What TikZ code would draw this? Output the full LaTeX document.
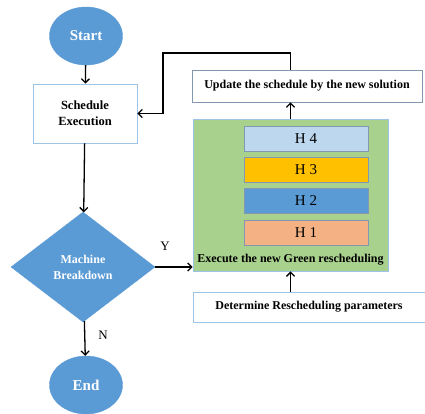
\documentclass[tikz,border=0pt]{standalone}
\usepackage{fontspec}
\setmainfont{Liberation Serif}
\usepackage{tikz}
\usetikzlibrary{arrows.meta, positioning, shapes.geometric, calc}
\definecolor{flowblue}{HTML}{5B9BD5}
\definecolor{flowedge}{HTML}{9DC3E6}
\definecolor{flowgreen}{HTML}{A9D18E}
\definecolor{flowsky}{HTML}{BDD7EE}
\definecolor{flowgold}{HTML}{FFC000}
\definecolor{flowpeach}{HTML}{F4B183}
\definecolor{flowslate}{HTML}{8497B0}
\tikzset{
  terminal/.style={ellipse, fill=flowblue, draw=flowblue, text=white, inner sep=0pt,
    minimum width=73pt, minimum height=58pt, font=\fontsize{15}{17}\selectfont\bfseries},
  plainbox/.style={rectangle, draw=flowedge, fill=white, line width=0.8pt, inner sep=0pt,
    align=center, font=\fontsize{12}{14}\selectfont\bfseries},
  decision/.style={diamond, fill=flowblue, draw=flowblue, text=white, inner sep=0pt, align=center,
    minimum width=144pt, minimum height=110pt, font=\fontsize{12}{16}\selectfont\bfseries},
  hbox/.style={rectangle, draw=flowslate, line width=0.6pt, inner sep=0pt,
    minimum width=124pt, minimum height=25pt, font=\fontsize{15}{17}\selectfont},
  flow/.style={-{Straight Barb[length=4pt, width=8pt]}, line width=1.3pt, black},
}

\begin{document}
\begin{tikzpicture}[x=1pt, y=-1pt]
  \useasboundingbox (0,0) rectangle (425,413);
  % main column
  \node[terminal] (start) at (86,36) {Start};
  \node[plainbox, minimum width=104pt, minimum height=59pt, font=\fontsize{12.5}{16}\selectfont\bfseries]
    (sched) at (85,113.5) {Schedule\\Execution};
  \node[decision] (brk) at (83,267) {Machine\\Breakdown};
  \node[terminal] (end) at (86,385) {End};
  % rescheduling block
  \node[rectangle, fill=flowgreen, draw=flowedge, line width=0.8pt, minimum width=195pt,
    minimum height=152pt] (green) at (290.5,195) {};
  \node[hbox, fill=flowsky] (h4) at (306,138.5) {H 4};
  \node[hbox, fill=flowgold] (h3) at (306,169.5) {H 3};
  \node[hbox, fill=flowblue] (h2) at (306,200.5) {H 2};
  \node[hbox, fill=flowpeach] (h1) at (306,232.5) {H 1};
  \node[font=\fontsize{12}{14}\selectfont\bfseries, anchor=south] (greenlbl)
    at ([yshift=3pt]green.south) {Execute the new Green rescheduling};
  \node[plainbox, draw=flowslate, minimum width=230pt, minimum height=32pt] (upd) at (307,86)
    {Update the schedule by the new solution};
  \node[plainbox, minimum width=232pt, minimum height=30pt] (det) at (309,307)
    {Determine Rescheduling parameters};
  \coordinate (turn) at (163,53);
  % connectors
  \draw[flow] (start) -- (sched);
  \draw[flow] (sched) -- (brk);
  \draw[flow] (brk) -- (end);
  \draw[flow] (brk.east) -- (green.west |- brk.east);
  \draw[flow] (det.north -| green.south) -- (green.south);
  \draw[flow] (green.north) -- (green.north |- upd.south);
  \draw[flow] (green.north |- upd.north) |- (turn) |- (sched.east);
  \node[font=\fontsize{13}{15}\selectfont] (ylbl) at (165,246) {Y};
  \node[font=\fontsize{13}{15}\selectfont] (nlbl) at (103,335) {N};
\end{tikzpicture}
\end{document}
